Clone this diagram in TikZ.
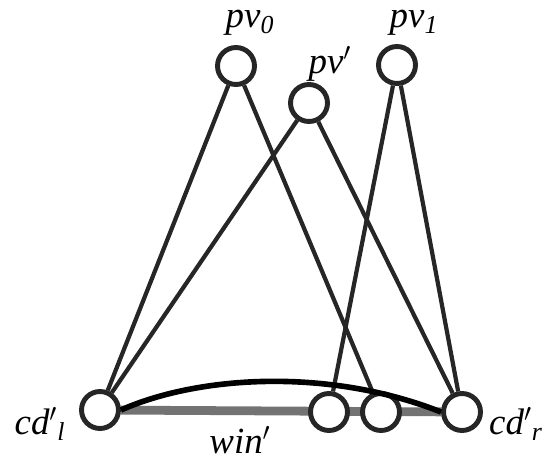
\documentclass[tikz,border=0pt]{standalone}
\usepackage{fontspec}
\setmainfont{Liberation Serif}
\usepackage{tikz}
\usetikzlibrary{positioning,backgrounds}
\tikzset{
  vtx/.style={circle,draw=black!85,line width=2.8pt,fill=white,
              minimum size=0.74cm,inner sep=0pt},
  edg/.style={draw=black!85,line width=2.4pt},
  win/.style={draw=black!55,line width=5pt},
  arc/.style={draw=black,line width=3.2pt},
  lbl/.style={font=\fontsize{21}{24}\selectfont\itshape,inner sep=0.5pt}
}
\begin{document}
\begin{tikzpicture}[x=0.02cm,y=-0.02cm]
  \useasboundingbox (0,0) rectangle (544,459);
  % vertices
  \node[vtx] (pv0) at (236,66) {};
  \node[vtx] (pvp) at (309,103) {};
  \node[vtx] (pv1) at (397,65) {};
  \node[vtx] (cdl) at (100,410) {};
  \node[vtx] (cm1) at (329,412) {};
  \node[vtx] (cm2) at (381,412) {};
  \node[vtx] (cdr) at (462,412) {};

  % edges, behind the vertices
  \begin{scope}[on background layer]
    \draw[win] (cdl) -- (cdr);
    \draw[edg] (pv0) -- (cdl);
    \draw[edg] (pv0) -- (cm2);
    \draw[edg] (pvp) -- (cdl);
    \draw[edg] (pvp) -- (cdr);
    \draw[edg] (pv1) -- (cm1);
    \draw[edg] (pv1) -- (cdr);
  \end{scope}
  \draw[arc] (cdl.east) .. controls (200,375) and (330,368) .. (cdr.west);

  % labels
  \node[lbl] (lpv0) at (250,23) {pv\textsubscript{0}};
  \node[lbl] (lpvp) at (330,64) {pv$'$};
  \node[lbl] (lpv1) at (414,23) {pv\textsubscript{1}};
  \node[lbl] (lcdl) at (40,424) {cd$'$\textsubscript{l}};
  \node[lbl] (lcdr) at (516,424) {cd$'$\textsubscript{r}};
  \node[lbl] (lwin) at (240,440) {win$'$};
\end{tikzpicture}
\end{document}
